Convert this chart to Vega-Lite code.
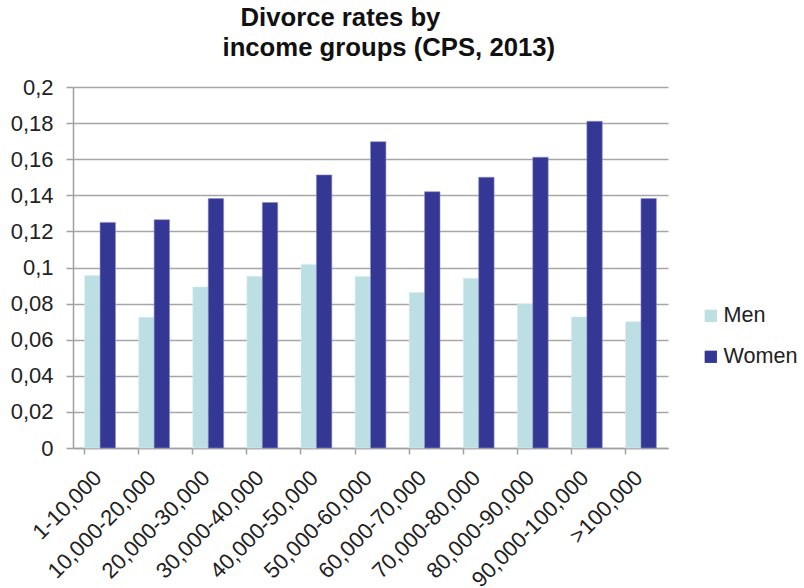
{
  "$schema": "https://vega.github.io/schema/vega-lite/v6.json",
  "width": 595,
  "height": 361,
  "autosize": {"type": "none"},
  "padding": {"left": 73, "top": 87, "right": 136, "bottom": 140},
  "background": "white",
  "data": {
    "values": [
      {"income": "1-10,000", "sex": "Men", "rate": 0.0955},
      {"income": "1-10,000", "sex": "Women", "rate": 0.125},
      {"income": "10,000-20,000", "sex": "Men", "rate": 0.0724},
      {"income": "10,000-20,000", "sex": "Women", "rate": 0.1265},
      {"income": "20,000-30,000", "sex": "Men", "rate": 0.0892},
      {"income": "20,000-30,000", "sex": "Women", "rate": 0.1382},
      {"income": "30,000-40,000", "sex": "Men", "rate": 0.0951},
      {"income": "30,000-40,000", "sex": "Women", "rate": 0.136},
      {"income": "40,000-50,000", "sex": "Men", "rate": 0.1016},
      {"income": "40,000-50,000", "sex": "Women", "rate": 0.1513},
      {"income": "50,000-60,000", "sex": "Men", "rate": 0.095},
      {"income": "50,000-60,000", "sex": "Women", "rate": 0.1697},
      {"income": "60,000-70,000", "sex": "Men", "rate": 0.0861},
      {"income": "60,000-70,000", "sex": "Women", "rate": 0.142},
      {"income": "70,000-80,000", "sex": "Men", "rate": 0.094},
      {"income": "70,000-80,000", "sex": "Women", "rate": 0.15},
      {"income": "80,000-90,000", "sex": "Men", "rate": 0.0796},
      {"income": "80,000-90,000", "sex": "Women", "rate": 0.1611},
      {"income": "90,000-100,000", "sex": "Men", "rate": 0.0726},
      {"income": "90,000-100,000", "sex": "Women", "rate": 0.181},
      {"income": ">100,000", "sex": "Men", "rate": 0.07},
      {"income": ">100,000", "sex": "Women", "rate": 0.1382}
    ]
  },
  "mark": {"type": "bar", "strokeWidth": 0.6},
  "encoding": {
    "x": {
      "field": "income",
      "type": "nominal",
      "sort": null,
      "title": "Divorce rates by",
      "scale": {"paddingInner": 0.43, "paddingOuter": 0.215},
      "axis": {
        "titleX": 167,
        "titleY": -423,
        "titleAlign": "left",
        "titleAnchor": null,
        "titleBaseline": "alphabetic",
        "titleFont": "Liberation Sans",
        "titleFontSize": 25.7,
        "titleFontWeight": "bold",
        "titleColor": "#111111",
        "labelAngle": -45,
        "labelAlign": "right",
        "labelBaseline": "middle",
        "bandPosition": 0,
        "labelOffset": -2,
        "labelFont": "Liberation Sans",
        "labelFontSize": 22,
        "labelColor": "#222222",
        "labelPadding": 20,
        "labelOverlap": false,
        "domainColor": "#a0a0a0",
        "domainWidth": 1.5,
        "tickColor": "#a0a0a0",
        "tickWidth": 1.5,
        "tickSize": 6,
        "grid": false
      }
    },
    "xOffset": {"field": "sex", "type": "nominal", "scale": {"paddingInner": 0, "paddingOuter": 0}},
    "y": {
      "field": "rate",
      "type": "quantitative",
      "title": "income groups (CPS, 2013)",
      "scale": {"domain": [0, 0.2], "nice": false},
      "axis": {
        "titleX": 149,
        "titleY": -32,
        "titleAngle": 0,
        "titleAlign": "left",
        "titleAnchor": null,
        "titleBaseline": "alphabetic",
        "titleFont": "Liberation Sans",
        "titleFontSize": 25.7,
        "titleFontWeight": "bold",
        "titleColor": "#111111",
        "values": [0, 0.02, 0.04, 0.06, 0.08, 0.1, 0.12, 0.14, 0.16, 0.18, 0.2],
        "labelExpr": "replace(format(datum.value, '~g'), '.', ',')",
        "labelFont": "Liberation Sans",
        "labelFontSize": 22,
        "labelColor": "#222222",
        "labelPadding": 13,
        "labelOverlap": false,
        "domainColor": "#a0a0a0",
        "domainWidth": 1.5,
        "tickColor": "#a0a0a0",
        "tickWidth": 1.5,
        "tickSize": 7,
        "gridColor": "#a6a6a6",
        "gridWidth": 1.5
      }
    },
    "color": {
      "field": "sex",
      "type": "nominal",
      "title": null,
      "scale": {"domain": ["Men", "Women"], "range": ["#bcdfe3", "#353795"]},
      "legend": {
        "orient": "none",
        "legendX": 627,
        "legendY": 218,
        "symbolType": "square",
        "symbolSize": 151,
        "symbolStrokeWidth": 0,
        "labelFont": "Liberation Sans",
        "labelFontSize": 21.6,
        "labelColor": "#222222",
        "rowPadding": 18,
        "labelOffset": 2
      }
    },
    "stroke": {
      "field": "sex",
      "type": "nominal",
      "scale": {"domain": ["Men", "Women"], "range": ["#d6eef0", "#8c8ec8"]},
      "legend": null
    }
  },
  "config": {"view": {"stroke": null}}
}
